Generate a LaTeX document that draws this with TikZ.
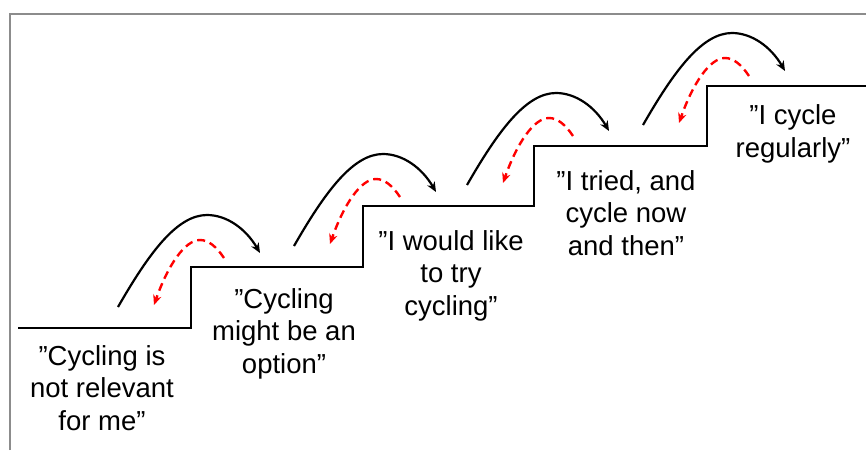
\documentclass[tikz,border=0pt]{standalone}
\usepackage{fontspec}
\setmainfont{Liberation Sans}
\usetikzlibrary{arrows.meta}
\definecolor{framegray}{HTML}{8C8C8C}
\definecolor{backred}{HTML}{FF0000}
\tikzset{
  frameline/.style={draw=framegray, line width=1.5pt},
  stairline/.style={draw=black, line width=2.9pt, line join=miter},
  jump/.style={draw=black, line width=2.2pt, -{Stealth[length=10pt,width=8.5pt]}},
  fallback/.style={draw=backred, line width=2.4pt, dash pattern=on 8pt off 5pt, -{Stealth[length=10pt,width=8.5pt]}},
  quote/.style={align=center, anchor=base, inner sep=0pt, font=\fontsize{27.5}{32.5}\selectfont}
}
\begin{document}
\begin{tikzpicture}[x=1pt,y=-1pt]
\useasboundingbox (0,0) rectangle (866,450);
% frame
\draw[frameline] (10,450) -- (10,14) -- (866,14);
% stairs
\draw[stairline] (18,328) -- (191,328) -- (191,267) -- (363,267) -- (363,206)
  -- (534,206) -- (534,146) -- (707,146) -- (707,86) -- (866,86);
% jumps
\foreach \i/\dx/\dy in {1/0/0, 2/176/-61, 3/349/-122, 4/525/-182} {
  \coordinate (s\i) at (118+\dx, 307+\dy);
  \coordinate (p\i) at (207+\dx, 215+\dy);
  \coordinate (e\i) at (260+\dx, 253+\dy);
  \coordinate (r\i) at (224+\dx, 258+\dy);
  \coordinate (q\i) at (200+\dx, 240+\dy);
  \coordinate (t\i) at (154+\dx, 305+\dy);
  \draw[jump] (s\i) .. controls +(31,-54) and +(-30,0) .. (p\i)
    .. controls +(20,0) and +(-14,-24) .. (e\i);
  \draw[fallback] (r\i) .. controls +(-8,-12) and +(8,0) .. (q\i)
    .. controls +(-15,0) and +(14,-40) .. (t\i);
}
% labels (anchor=base is the baseline of the last line)
\node[quote] (l1) at (102,430) {”Cycling is\\not relevant\\for me”};
\node[quote] (l2) at (284,373) {”Cycling\\might be an\\option”};
\node[quote] (l3) at (451,315) {”I would like\\to try\\cycling”};
\node[quote] (l4) at (626,255) {”I tried, and\\cycle now\\and then”};
\node[quote] (l5) at (793,157) {”I cycle\\regularly”};
\end{tikzpicture}
\end{document}
